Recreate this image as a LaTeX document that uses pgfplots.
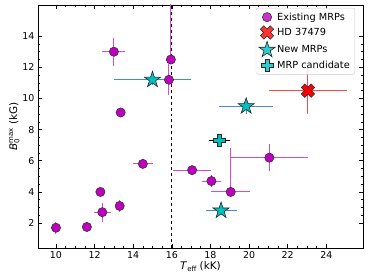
\documentclass[border=0pt]{standalone}
\usepackage{fontspec}
\setmainfont{DejaVu Sans}
\usepackage{pgfplots}
\pgfplotsset{compat=1.18}
\usepackage{pgfplotstable}

\definecolor{mmag}{RGB}{191,0,191}
\definecolor{mmagerr}{RGB}{218,72,218}
\definecolor{mcyan}{RGB}{0,191,191}
\definecolor{mblue}{RGB}{70,140,205}
\definecolor{mred}{RGB}{255,0,0}
\definecolor{mrederr}{RGB}{255,70,70}

\pgfdeclareplotmark{fplus}{%
  \pgfpathmoveto{\pgfpoint{-0.35\pgfplotmarksize}{\pgfplotmarksize}}%
  \pgfpathlineto{\pgfpoint{0.35\pgfplotmarksize}{\pgfplotmarksize}}%
  \pgfpathlineto{\pgfpoint{0.35\pgfplotmarksize}{0.35\pgfplotmarksize}}%
  \pgfpathlineto{\pgfpoint{\pgfplotmarksize}{0.35\pgfplotmarksize}}%
  \pgfpathlineto{\pgfpoint{\pgfplotmarksize}{-0.35\pgfplotmarksize}}%
  \pgfpathlineto{\pgfpoint{0.35\pgfplotmarksize}{-0.35\pgfplotmarksize}}%
  \pgfpathlineto{\pgfpoint{0.35\pgfplotmarksize}{-\pgfplotmarksize}}%
  \pgfpathlineto{\pgfpoint{-0.35\pgfplotmarksize}{-\pgfplotmarksize}}%
  \pgfpathlineto{\pgfpoint{-0.35\pgfplotmarksize}{-0.35\pgfplotmarksize}}%
  \pgfpathlineto{\pgfpoint{-\pgfplotmarksize}{-0.35\pgfplotmarksize}}%
  \pgfpathlineto{\pgfpoint{-\pgfplotmarksize}{0.35\pgfplotmarksize}}%
  \pgfpathlineto{\pgfpoint{-0.35\pgfplotmarksize}{0.35\pgfplotmarksize}}%
  \pgfpathclose
  \pgfusepathqfillstroke}
\pgfdeclareplotmark{fx}{\pgftransformrotate{45}\pgfuseplotmark{fplus}}
\pgfdeclareplotmark{fstar}{%
  \pgfpathmoveto{\pgfpointpolar{90}{\pgfplotmarksize}}%
  \pgfpathlineto{\pgfpointpolar{126}{0.382\pgfplotmarksize}}%
  \pgfpathlineto{\pgfpointpolar{162}{\pgfplotmarksize}}%
  \pgfpathlineto{\pgfpointpolar{198}{0.382\pgfplotmarksize}}%
  \pgfpathlineto{\pgfpointpolar{234}{\pgfplotmarksize}}%
  \pgfpathlineto{\pgfpointpolar{270}{0.382\pgfplotmarksize}}%
  \pgfpathlineto{\pgfpointpolar{306}{\pgfplotmarksize}}%
  \pgfpathlineto{\pgfpointpolar{342}{0.382\pgfplotmarksize}}%
  \pgfpathlineto{\pgfpointpolar{18}{\pgfplotmarksize}}%
  \pgfpathlineto{\pgfpointpolar{54}{0.382\pgfplotmarksize}}%
  \pgfpathclose
  \pgfusepathqfillstroke}

\pgfplotstableread{
x y exp exm eyp eym
10.0 1.7 0 0 0.4 0.4
11.6 1.75 0 0 0 0
12.3 4.0 0 0 0 0
12.4 2.7 0.43 0.43 0.6 0.6
13.3 3.1 0 0 0.4 0.4
14.5 5.8 0.5 0.5 0 0
13.0 13.0 0.6 0.6 0.9 0.9
13.35 9.1 0 0 0 0
15.95 12.5 0 0 5 0
15.85 11.2 0 0 1.0 1.0
17.05 5.4 1.0 1.0 0 0
18.05 4.7 0.5 0.5 0.4 0.4
19.05 4.0 1.0 1.0 2.8 0
21.05 6.2 2.0 2.0 0.85 0.85
}\existing
\pgfplotstableread{
x y exp exm eyp eym
23.05 10.5 2.0 2.0 1.5 1.5
}\hd
\pgfplotstableread{
x y exp exm eyp eym
15.0 11.2 2.0 2.0 0.35 0.35
19.85 9.5 1.4 1.4 0.5 0.5
18.55 2.8 0.8 0.8 0.3 0.3
}\newmrp
\pgfplotstableread{
x y exp exm eyp eym
18.45 7.3 0.55 0.55 0.35 0.35
}\cand

\begin{document}
\begin{tikzpicture}
\begin{axis}[
  name=ax,
  scale only axis,
  width=325bp, height=243bp,
  xmin=9.07, xmax=25.9,
  ymin=0.4, ymax=16,
  xtick={10,12,...,24},
  ytick={2,4,...,14},
  minor x tick num=3,
  minor y tick num=3,
  tick align=inside,
  xtick pos=both, ytick pos=both,
  major tick length=4bp, minor tick length=2.2bp,
  every tick/.style={black, line width=0.6pt},
  axis line style={line width=0.8pt},
  tick label style={font=\fontsize{9.5}{11}\selectfont},
  /pgf/number format/assume math mode=true,
  xlabel={\textit{T}\raisebox{-0.35ex}{\fontsize{7}{8}\selectfont eff} (kK)},
  ylabel={\textit{B}\rlap{\raisebox{-0.4ex}{\fontsize{7}{8}\selectfont 0}}\raisebox{0.7ex}{\fontsize{7}{8}\selectfont max} (kG)},
  label style={font=\fontsize{10.5}{12}\selectfont},
  xlabel style={yshift=4bp},
  ylabel style={yshift=-4bp},
  legend style={at={(1,1)}, anchor=north east, xshift=-8bp, yshift=-3bp,
    draw=black!20, rounded corners=2bp, fill=white, fill opacity=0.8, text opacity=1,
    font=\fontsize{9.8}{11}\selectfont, row sep=2.2bp, inner xsep=3bp, inner ysep=2.5bp},
  legend image code/.code={\draw[mark repeat=2,mark phase=2] plot coordinates {(0cm,0cm) (0.3cm,0cm) (0.6cm,0cm)};},
  legend cell align=left,
  error bars/x dir=both, error bars/y dir=both,
  error bars/x explicit, error bars/y explicit,
  error bars/error mark=none,
]
% dashed line
\addplot[black, dashed, line width=0.9pt, forget plot] coordinates {(16,0.4) (16,16)};
% error bars
\addplot[draw=none, mark=none, forget plot,
  error bars/error bar style={mmagerr, line width=1pt}]
  table[x=x, y=y, x error plus=exp, x error minus=exm, y error plus=eyp, y error minus=eym]{\existing};
\addplot[draw=none, mark=none, forget plot,
  error bars/error bar style={mrederr, line width=1pt}]
  table[x=x, y=y, x error plus=exp, x error minus=exm, y error plus=eyp, y error minus=eym]{\hd};
\addplot[draw=none, mark=none, forget plot,
  error bars/error bar style={mblue, line width=1pt}]
  table[x=x, y=y, x error plus=exp, x error minus=exm, y error plus=eyp, y error minus=eym]{\newmrp};
\addplot[draw=none, mark=none, forget plot,
  error bars/error bar style={black, line width=1pt}]
  table[x=x, y=y, x error plus=exp, x error minus=exm, y error plus=eyp, y error minus=eym]{\cand};
% markers
\addplot[only marks, mark=*, mark size=4.6bp, mark options={fill=mmag, draw=black!80, line width=0.6pt}]
  table[x=x, y=y]{\existing};
\addlegendentry{Existing MRPs}
\addplot[only marks, mark=fx, mark size=7bp, mark options={fill=mred, draw=black!80, line width=0.6pt}]
  table[x=x, y=y]{\hd};
\addlegendentry{HD 37479}
\addplot[only marks, mark=fstar, mark size=8.5bp, mark options={fill=mcyan, draw=black!85, line width=0.6pt}]
  table[x=x, y=y]{\newmrp};
\addlegendentry{New MRPs}
\addplot[only marks, mark=fplus, mark size=6bp, mark options={fill=mcyan, draw=black!85, line width=0.6pt}]
  table[x=x, y=y]{\cand};
\addlegendentry{MRP candidate}
\end{axis}
\pgfresetboundingbox
\path ([xshift=-38bp,yshift=-32bp]ax.south west) rectangle ([xshift=11bp,yshift=5bp]ax.north east);
\end{tikzpicture}
\end{document}
